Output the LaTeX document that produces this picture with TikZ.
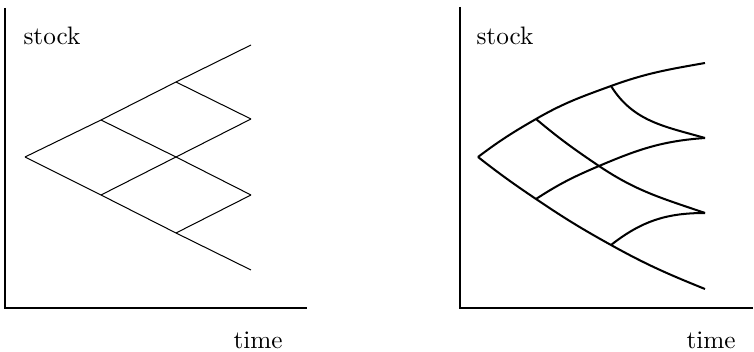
\documentclass[tikz,border=0pt]{standalone}
\begin{document}
\begin{tikzpicture}[x=0.396pt,y=0.396pt,
  axisline/.style={line width=0.4pt},
  treeline/.style={line width=0.4pt},
  curveline/.style={line width=0.8pt},
  lbl/.style={inner sep=0pt,anchor=base west}]
\useasboundingbox (0,0) rectangle (754,352);
% left panel axes
\coordinate (LO) at (5,44);
\coordinate (LT) at (5,344);
\coordinate (LR) at (307,44);
\draw[axisline] (LT) -- (LO) -- (LR);
\node[lbl] (ls) at (23,307) {stock};
\node[lbl] (lt) at (233,3) {time};
% left tree
\coordinate (A) at (25,195);
\coordinate (B1) at (101,232);
\coordinate (B2) at (101,157);
\coordinate (C1) at (176,270);
\coordinate (C2) at (176,195);
\coordinate (C3) at (176,119);
\coordinate (D1) at (251,307);
\coordinate (D2) at (251,233);
\coordinate (D3) at (251,157);
\coordinate (D4) at (251,82);
\draw[treeline] (A) -- (B1) -- (C1) -- (D1);
\draw[treeline] (A) -- (B2) -- (C3) -- (D4);
\draw[treeline] (B1) -- (C2) -- (D3);
\draw[treeline] (B2) -- (C2) -- (D2);
\draw[treeline] (C1) -- (D2);
\draw[treeline] (C3) -- (D3);
% right panel axes
\coordinate (RO) at (460,44);
\coordinate (RT) at (460,345);
\coordinate (RR) at (753,44);
\draw[axisline] (RT) -- (RO) -- (RR);
\node[lbl] (rs) at (476,307) {stock};
\node[lbl] (rt) at (686,3) {time};
% right tree
\coordinate (R) at (478,195);
\coordinate (S1) at (536,233);
\coordinate (S2) at (536,153);
\coordinate (T1) at (611,266);
\coordinate (T2) at (599,186);
\coordinate (T3) at (611,107);
\coordinate (U1) at (705,289);
\coordinate (U2) at (705,214);
\coordinate (U3) at (705,139);
\coordinate (U4) at (705,63);
\draw[curveline] (R) to[out=37,in=210] (S1) to[out=30,in=200] (T1) to[out=20,in=190] (U1);
\draw[curveline] (R) to[out=-38,in=146] (S2) to[out=-34,in=151] (T3) to[out=-29,in=158] (U4);
\draw[curveline] (S1) to[out=-40,in=146] (T2) to[out=-34,in=161] (U3);
\draw[curveline] (S2) to[out=33,in=203] (T2) to[out=23,in=184] (U2);
\draw[curveline] (T1) to[out=-58,in=164] (U2);
\draw[curveline] (T3) to[out=38,in=180] (U3);
\end{tikzpicture}
\end{document}
